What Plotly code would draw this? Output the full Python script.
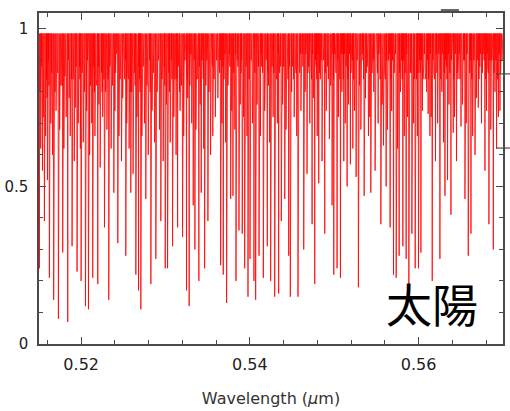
import plotly.graph_objects as go

# Strong absorption lines: centre wavelength (µm) and residual flux at line core
deep_wl = [
    0.51505, 0.51564, 0.51623, 0.51674, 0.51730, 0.51781, 0.51841, 0.51892, 0.51951, 0.51999,
    0.52051, 0.52086, 0.52137, 0.52197, 0.52276, 0.52327, 0.52387,
    0.52434, 0.52529, 0.52588, 0.52648, 0.52680, 0.52707, 0.52766, 0.52826, 0.52885, 0.52944,
    0.52996, 0.53024, 0.53083, 0.53143, 0.53202, 0.53249, 0.53280, 0.53328,
    0.53348, 0.53395, 0.53423, 0.53463, 0.53502, 0.53534, 0.53653, 0.53684, 0.53724, 0.53772,
    0.53799, 0.53835, 0.53870, 0.53909, 0.53938, 0.53977, 0.54001, 0.54048, 0.54068, 0.54108,
    0.54159, 0.54206, 0.54246,
    0.54294, 0.54341, 0.54372, 0.54413, 0.54460, 0.54479, 0.54570, 0.54638, 0.54677, 0.54737,
    0.54769, 0.54816, 0.54855, 0.54887, 0.54942, 0.54974, 0.54994, 0.55033, 0.55073, 0.55113,
    0.55152, 0.55191,
    0.55220, 0.55259, 0.55286, 0.55354, 0.55405, 0.55433, 0.55484, 0.55552, 0.55583, 0.55615,
    0.55662, 0.55702, 0.55734, 0.55769, 0.55813, 0.55852, 0.55884, 0.55920, 0.55959, 0.55998,
    0.56027, 0.56078, 0.56113,
    0.56134, 0.56161, 0.56200, 0.56252, 0.56312, 0.56343, 0.56383, 0.56410, 0.56449, 0.56502,
    0.56549, 0.56588, 0.56620, 0.56668, 0.56707, 0.56786, 0.56833, 0.56885, 0.56924, 0.56964,
]
deep_flux = [
    0.24, 0.39, 0.21, 0.14, 0.08, 0.29, 0.07, 0.31, 0.23, 0.20,
    0.12, 0.11, 0.21, 0.19, 0.37, 0.14, 0.48,
    0.32, 0.28, 0.48, 0.22, 0.17, 0.11, 0.46, 0.19, 0.27, 0.39,
    0.24, 0.24, 0.31, 0.37, 0.34, 0.17, 0.12, 0.44,
    0.30, 0.20, 0.48, 0.24, 0.39, 0.60, 0.25, 0.22, 0.13, 0.46,
    0.47, 0.20, 0.36, 0.35, 0.24, 0.15, 0.27, 0.20, 0.14, 0.28,
    0.21, 0.31, 0.20,
    0.15, 0.16, 0.39, 0.46, 0.28, 0.15, 0.15, 0.30, 0.54, 0.38,
    0.19, 0.51, 0.58, 0.35, 0.65, 0.44, 0.22, 0.24, 0.21, 0.58,
    0.50, 0.57,
    0.62, 0.53, 0.18, 0.47, 0.66, 0.48, 0.55, 0.38, 0.63, 0.50,
    0.37, 0.22, 0.21, 0.28, 0.31, 0.27, 0.19, 0.35, 0.24, 0.24,
    0.29, 0.84, 0.73,
    0.66, 0.20, 0.58, 0.27, 0.47, 0.52, 0.41, 0.67, 0.58, 0.69,
    0.46, 0.28, 0.35, 0.60, 0.75, 0.55, 0.38, 0.30, 0.62, 0.74,
]

# Medium-strength lines between the strong ones
weak_wl = [
    0.51512, 0.51520, 0.51533, 0.51541, 0.51550, 0.51578, 0.51590, 0.51600, 0.51612, 0.51640,
    0.51652, 0.51660, 0.51690, 0.51702, 0.51715, 0.51745, 0.51760, 0.51795, 0.51808, 0.51822,
    0.51858, 0.51870, 0.51905, 0.51918, 0.51930, 0.51965, 0.51980, 0.51990,
    0.52012, 0.52025, 0.52038, 0.52065, 0.52075, 0.52100, 0.52112, 0.52125, 0.52150, 0.52163,
    0.52178, 0.52210, 0.52225, 0.52240, 0.52255, 0.52290, 0.52305, 0.52340, 0.52355, 0.52370,
    0.52400, 0.52415, 0.52448, 0.52462, 0.52478, 0.52492,
    0.52508, 0.52540, 0.52555, 0.52568, 0.52600, 0.52615, 0.52630, 0.52662, 0.52692, 0.52720,
    0.52735, 0.52750, 0.52780, 0.52795, 0.52810, 0.52840, 0.52855, 0.52870, 0.52900, 0.52915,
    0.52928, 0.52958, 0.52972, 0.52985,
    0.53010, 0.53040, 0.53055, 0.53068, 0.53098, 0.53112, 0.53125, 0.53158, 0.53172, 0.53188,
    0.53215, 0.53230, 0.53262, 0.53295, 0.53310, 0.53340, 0.53360, 0.53375, 0.53410, 0.53440,
    0.53452, 0.53478, 0.53490,
    0.53515, 0.53548, 0.53560, 0.53575, 0.53590, 0.53605, 0.53620, 0.53640, 0.53668, 0.53700,
    0.53712, 0.53740, 0.53755, 0.53785, 0.53815, 0.53822, 0.53850, 0.53885, 0.53895, 0.53925,
    0.53955, 0.53965, 0.53990,
    0.54015, 0.54030, 0.54060, 0.54085, 0.54095, 0.54125, 0.54140, 0.54175, 0.54190, 0.54220,
    0.54232, 0.54262, 0.54275, 0.54310, 0.54325, 0.54355, 0.54388, 0.54400, 0.54428, 0.54445,
    0.54495,
    0.54510, 0.54525, 0.54540, 0.54555, 0.54590, 0.54605, 0.54620, 0.54655, 0.54695, 0.54710,
    0.54722, 0.54752, 0.54785, 0.54798, 0.54835, 0.54870, 0.54905, 0.54918, 0.54958, 0.54985,
    0.55012, 0.55050, 0.55060, 0.55090, 0.55100, 0.55130, 0.55140, 0.55170, 0.55205, 0.55240,
    0.55270, 0.55300, 0.55315, 0.55330, 0.55370, 0.55390, 0.55420, 0.55455, 0.55468,
    0.55505, 0.55520, 0.55535, 0.55568, 0.55598, 0.55630, 0.55645, 0.55680, 0.55718, 0.55750,
    0.55785, 0.55798, 0.55830, 0.55868, 0.55900, 0.55940, 0.55975, 0.55985,
    0.56010, 0.56045, 0.56060, 0.56095, 0.56125, 0.56148, 0.56180, 0.56225, 0.56240, 0.56275,
    0.56295, 0.56328, 0.56360, 0.56398, 0.56425, 0.56465, 0.56480,
    0.56520, 0.56535, 0.56565, 0.56605, 0.56640, 0.56655, 0.56685, 0.56725, 0.56745, 0.56765,
    0.56805, 0.56818, 0.56855, 0.56868, 0.56905, 0.56945, 0.56980, 0.56995,
]
weak_flux = [
    0.80, 0.62, 0.88, 0.55, 0.72, 0.66, 0.84, 0.52, 0.90, 0.70,
    0.86, 0.60, 0.80, 0.74, 0.88, 0.68, 0.82, 0.62, 0.85, 0.72,
    0.78, 0.66, 0.84, 0.58, 0.75, 0.70, 0.88, 0.62,
    0.86, 0.64, 0.80, 0.74, 0.90, 0.60, 0.82, 0.70, 0.88, 0.66,
    0.84, 0.76, 0.56, 0.86, 0.72, 0.80, 0.68, 0.88, 0.62, 0.82,
    0.74, 0.90, 0.66, 0.84, 0.58, 0.78,
    0.88, 0.70, 0.85, 0.62, 0.80, 0.54, 0.86, 0.72, 0.84, 0.66,
    0.88, 0.70, 0.82, 0.60, 0.90, 0.74, 0.86, 0.64, 0.80, 0.90,
    0.68, 0.84, 0.58, 0.88,
    0.76, 0.86, 0.64, 0.90, 0.72, 0.84, 0.60, 0.88, 0.74, 0.82,
    0.66, 0.90, 0.78, 0.86, 0.70, 0.90, 0.68, 0.84, 0.76, 0.88,
    0.62, 0.82, 0.90,
    0.80, 0.88, 0.66, 0.84, 0.72, 0.90, 0.78, 0.86, 0.70, 0.88,
    0.64, 0.82, 0.92, 0.74, 0.86, 0.68, 0.90, 0.76, 0.86, 0.72,
    0.88, 0.66, 0.84,
    0.90, 0.70, 0.86, 0.76, 0.92, 0.66, 0.88, 0.74, 0.90, 0.82,
    0.64, 0.88, 0.72, 0.86, 0.70, 0.92, 0.76, 0.88, 0.68, 0.90,
    0.80,
    0.92, 0.72, 0.88, 0.66, 0.86, 0.74, 0.92, 0.80, 0.88, 0.70,
    0.92, 0.78, 0.88, 0.66, 0.84, 0.90, 0.74, 0.88, 0.82, 0.92,
    0.86, 0.72, 0.90, 0.80, 0.92, 0.70, 0.88, 0.76, 0.86, 0.74,
    0.90, 0.82, 0.68, 0.92, 0.78, 0.88, 0.72, 0.90, 0.80,
    0.88, 0.70, 0.92, 0.76, 0.86, 0.68, 0.90, 0.74, 0.86, 0.62,
    0.80, 0.90, 0.66, 0.72, 0.86, 0.70, 0.84, 0.66,
    0.90, 0.74, 0.88, 0.80, 0.90, 0.72, 0.86, 0.70, 0.92, 0.80,
    0.64, 0.88, 0.76, 0.90, 0.72, 0.84, 0.92,
    0.76, 0.90, 0.70, 0.86, 0.66, 0.90, 0.78, 0.88, 0.70, 0.92,
    0.74, 0.88, 0.68, 0.90, 0.80, 0.72, 0.86, 0.92,
]

# Faint lines that crowd the top of the spectrum
faint_wl = [
    0.51516, 0.51527, 0.51546, 0.51558, 0.51570, 0.51584, 0.51596, 0.51606, 0.51618, 0.51630,
    0.51646, 0.51668, 0.51682, 0.51696, 0.51710, 0.51722, 0.51737, 0.51752, 0.51768, 0.51775,
    0.51788, 0.51802, 0.51815, 0.51830, 0.51848, 0.51865, 0.51878, 0.51885, 0.51898, 0.51912,
    0.51925, 0.51940, 0.51958, 0.51972, 0.51985, 0.51995,
    0.52005, 0.52018, 0.52032, 0.52045, 0.52058, 0.52070, 0.52082, 0.52093, 0.52106, 0.52118,
    0.52132, 0.52143, 0.52157, 0.52170, 0.52185, 0.52204, 0.52218, 0.52233, 0.52248, 0.52262,
    0.52270, 0.52283, 0.52298, 0.52312, 0.52320, 0.52333, 0.52348, 0.52362, 0.52378, 0.52393,
    0.52408, 0.52422, 0.52440, 0.52455, 0.52470, 0.52485, 0.52498,
    0.52515, 0.52522, 0.52535, 0.52548, 0.52562, 0.52575, 0.52582, 0.52595, 0.52608, 0.52622,
    0.52640, 0.52655, 0.52670, 0.52686, 0.52698, 0.52714, 0.52728, 0.52742, 0.52758, 0.52772,
    0.52788, 0.52802, 0.52818, 0.52833, 0.52848, 0.52862, 0.52878, 0.52893, 0.52908, 0.52922,
    0.52936, 0.52951, 0.52965, 0.52979, 0.52992,
    0.53004, 0.53017, 0.53032, 0.53048, 0.53062, 0.53076, 0.53090, 0.53105, 0.53118, 0.53135,
    0.53150, 0.53165, 0.53180, 0.53195, 0.53208, 0.53222, 0.53238, 0.53255, 0.53270, 0.53288,
    0.53302, 0.53318, 0.53333, 0.53352, 0.53368, 0.53383, 0.53402, 0.53418, 0.53432, 0.53447,
    0.53470, 0.53484, 0.53496,
    0.53508, 0.53522, 0.53540, 0.53555, 0.53568, 0.53582, 0.53597, 0.53612, 0.53628, 0.53648,
    0.53660, 0.53677, 0.53692, 0.53706, 0.53718, 0.53732, 0.53748, 0.53762, 0.53778, 0.53792,
    0.53808, 0.53830, 0.53842, 0.53858, 0.53878, 0.53902, 0.53916, 0.53932, 0.53946, 0.53960,
    0.53972, 0.53984, 0.53996,
    0.54008, 0.54022, 0.54038, 0.54052, 0.54075, 0.54102, 0.54116, 0.54132, 0.54150, 0.54166,
    0.54182, 0.54198, 0.54212, 0.54240, 0.54254, 0.54268, 0.54284, 0.54302, 0.54318, 0.54334,
    0.54348, 0.54365, 0.54380, 0.54394, 0.54420, 0.54436, 0.54452, 0.54468, 0.54486,
    0.54503, 0.54518, 0.54532, 0.54548, 0.54563, 0.54578, 0.54598, 0.54612, 0.54628, 0.54645,
    0.54662, 0.54688, 0.54702, 0.54730, 0.54744, 0.54760, 0.54776, 0.54792, 0.54808, 0.54826,
    0.54844, 0.54862, 0.54878, 0.54895, 0.54912, 0.54930, 0.54950, 0.54966, 0.54980, 0.54992,
    0.55005, 0.55020, 0.55042, 0.55066, 0.55082, 0.55095, 0.55108, 0.55122, 0.55135, 0.55148,
    0.55162, 0.55180, 0.55198, 0.55213, 0.55230, 0.55248, 0.55264, 0.55278, 0.55293, 0.55308,
    0.55322, 0.55340, 0.55348, 0.55362, 0.55380, 0.55398, 0.55412, 0.55440, 0.55448, 0.55462,
    0.55476, 0.55492,
    0.55512, 0.55528, 0.55544, 0.55560, 0.55575, 0.55590, 0.55606, 0.55622, 0.55638, 0.55655,
    0.55672, 0.55690, 0.55710, 0.55726, 0.55742, 0.55758, 0.55776, 0.55792, 0.55806, 0.55822,
    0.55840, 0.55860, 0.55876, 0.55892, 0.55910, 0.55928, 0.55948, 0.55966, 0.55992,
    0.56004, 0.56018, 0.56036, 0.56052, 0.56068, 0.56086, 0.56104, 0.56118, 0.56140, 0.56155,
    0.56170, 0.56188, 0.56208, 0.56216, 0.56232, 0.56262, 0.56284, 0.56304, 0.56320, 0.56336,
    0.56352, 0.56370, 0.56390, 0.56418, 0.56436, 0.56458, 0.56472, 0.56490,
    0.56506, 0.56528, 0.56544, 0.56556, 0.56574, 0.56596, 0.56614, 0.56630, 0.56648, 0.56676,
    0.56696, 0.56716, 0.56734, 0.56756, 0.56776, 0.56795, 0.56812, 0.56826, 0.56845, 0.56862,
    0.56876, 0.56895, 0.56915, 0.56935, 0.56955, 0.56972, 0.56988,
]
faint_flux = [
    0.90, 0.84, 0.92, 0.80, 0.88, 0.92, 0.78, 0.86, 0.82, 0.90,
    0.80, 0.88, 0.84, 0.90, 0.80, 0.86, 0.92, 0.78, 0.88, 0.82,
    0.90, 0.76, 0.88, 0.84, 0.90, 0.80, 0.88, 0.84, 0.80, 0.90,
    0.82, 0.88, 0.78, 0.90, 0.84, 0.88,
    0.82, 0.90, 0.78, 0.88, 0.84, 0.80, 0.92, 0.86, 0.78, 0.90,
    0.84, 0.88, 0.80, 0.92, 0.82, 0.88, 0.84, 0.90, 0.80, 0.88,
    0.84, 0.92, 0.82, 0.88, 0.84, 0.78, 0.90, 0.84, 0.88, 0.80,
    0.86, 0.92, 0.82, 0.88, 0.84, 0.90, 0.82,
    0.84, 0.90, 0.80, 0.92, 0.84, 0.88, 0.80, 0.90, 0.84, 0.88,
    0.82, 0.90, 0.84, 0.88, 0.80, 0.90, 0.84, 0.92, 0.82, 0.88,
    0.84, 0.92, 0.80, 0.88, 0.84, 0.90, 0.82, 0.88, 0.84, 0.92,
    0.80, 0.88, 0.84, 0.90, 0.82,
    0.90, 0.84, 0.88, 0.80, 0.92, 0.84, 0.88, 0.82, 0.90, 0.84,
    0.88, 0.80, 0.92, 0.84, 0.88, 0.82, 0.90, 0.84, 0.88, 0.82,
    0.92, 0.84, 0.88, 0.80, 0.92, 0.84, 0.88, 0.80, 0.90, 0.84,
    0.88, 0.82, 0.90,
    0.86, 0.92, 0.84, 0.88, 0.82, 0.90, 0.86, 0.92, 0.84, 0.90,
    0.82, 0.88, 0.84, 0.92, 0.86, 0.90, 0.84, 0.88, 0.82, 0.90,
    0.86, 0.92, 0.84, 0.88, 0.82, 0.90, 0.86, 0.88, 0.84, 0.92,
    0.86, 0.90, 0.84,
    0.88, 0.92, 0.84, 0.90, 0.86, 0.88, 0.84, 0.92, 0.86, 0.90,
    0.84, 0.92, 0.86, 0.88, 0.84, 0.92, 0.86, 0.90, 0.84, 0.92,
    0.86, 0.88, 0.84, 0.92, 0.86, 0.90, 0.84, 0.88, 0.82,
    0.88, 0.84, 0.92, 0.86, 0.90, 0.84, 0.92, 0.86, 0.88, 0.84,
    0.92, 0.86, 0.90, 0.84, 0.92, 0.86, 0.90, 0.84, 0.92, 0.86,
    0.90, 0.84, 0.92, 0.86, 0.90, 0.84, 0.92, 0.86, 0.90, 0.84,
    0.92, 0.86, 0.90, 0.84, 0.92, 0.88, 0.84, 0.92, 0.86, 0.90,
    0.84, 0.92, 0.86, 0.90, 0.84, 0.92, 0.86, 0.90, 0.84, 0.92,
    0.86, 0.90, 0.84, 0.92, 0.86, 0.90, 0.84, 0.92, 0.86, 0.90,
    0.84, 0.92,
    0.86, 0.92, 0.84, 0.90, 0.86, 0.92, 0.84, 0.90, 0.86, 0.92,
    0.84, 0.90, 0.86, 0.92, 0.84, 0.90, 0.86, 0.92, 0.84, 0.90,
    0.86, 0.92, 0.84, 0.90, 0.86, 0.92, 0.84, 0.90, 0.86,
    0.92, 0.86, 0.90, 0.84, 0.92, 0.86, 0.90, 0.84, 0.92, 0.86,
    0.90, 0.84, 0.92, 0.86, 0.90, 0.84, 0.92, 0.86, 0.90, 0.84,
    0.92, 0.86, 0.90, 0.84, 0.92, 0.86, 0.90, 0.84,
    0.92, 0.86, 0.90, 0.84, 0.92, 0.86, 0.90, 0.84, 0.92, 0.86,
    0.90, 0.84, 0.92, 0.86, 0.90, 0.84, 0.92, 0.86, 0.90, 0.84,
    0.92, 0.86, 0.90, 0.84, 0.92, 0.86, 0.90,
]

CONTINUUM = 0.985      # normalised continuum level
HALF_WIDTH = 0.00004   # half width of a drawn line profile (µm)

x_ticks = [0.52, 0.54, 0.56]
y_ticks = [0, 0.5, 1]

# Build the spectrum: each line is a narrow dip from the continuum down to its core
lines = sorted(zip(deep_wl + weak_wl + faint_wl, deep_flux + weak_flux + faint_flux))
wl, flux = [0.515], [CONTINUUM]
for centre, core in lines:
    wl += [centre - HALF_WIDTH, centre, centre + HALF_WIDTH]
    flux += [CONTINUUM, core, CONTINUUM]
wl.append(0.570)
flux.append(CONTINUUM)

fig = go.Figure(go.Scatter(
    x=wl, y=flux, mode="lines",
    line=dict(color="#ff0000", width=0.8),
    hoverinfo="skip",
))

AXIS_GREY = "#4a4a4a"
axis_common = dict(
    showline=True, linecolor=AXIS_GREY, linewidth=1.5, mirror="ticks",
    ticks="inside", ticklen=7, tickwidth=1.2, tickcolor=AXIS_GREY,
    showgrid=False, zeroline=False, automargin=False,
)

fig.update_layout(
    width=510, height=411,
    margin=dict(l=39, r=7, t=13, b=67),
    paper_bgcolor="white", plot_bgcolor="white",
    showlegend=False,
    xaxis=dict(
        range=[0.515, 0.570], tickvals=x_ticks, ticktext=[f"{v:.2f}" for v in x_ticks],
        minor=dict(ticks="inside", ticklen=4, tickcolor=AXIS_GREY, dtick=0.004, tick0=0.52),
        ticklabelstandoff=5,
        tickfont=dict(family="DejaVu Sans", size=16, color="#222222"),
        title=dict(text="Wavelength (<i>μ</i>m)", standoff=20,
                   font=dict(family="DejaVu Sans", size=16, color="#333333")),
        **axis_common,
    ),
    yaxis=dict(
        range=[0, 1.05], tickvals=y_ticks, ticktext=["0", "0.5", "1"],
        minor=dict(ticks="inside", ticklen=4, tickcolor=AXIS_GREY, dtick=0.1, tick0=0),
        ticklabelstandoff=6,
        tickfont=dict(family="DejaVu Sans", size=15, color="#222222"),
        **axis_common,
    ),
    annotations=[
        dict(text="太陽", xref="paper", yref="paper", x=0.848, y=0.127,
             xanchor="center", yanchor="middle", showarrow=False,
             font=dict(family="Noto Sans CJK JP", size=46, color="black")),
    ],
    shapes=[
        dict(type="line", xref="paper", yref="paper", x0=0.866, x1=0.905, y0=1.009, y1=1.009,
             line=dict(color="#333333", width=1.5)),
        dict(type="line", xref="paper", yref="paper", x0=0.985, x1=1.02, y0=0.816, y1=0.816,
             line=dict(color=AXIS_GREY, width=1.2)),
        dict(type="line", xref="paper", yref="paper", x0=0.985, x1=1.02, y0=0.592, y1=0.592,
             line=dict(color=AXIS_GREY, width=1.2)),
    ],
)

fig.write_html("out.html")
